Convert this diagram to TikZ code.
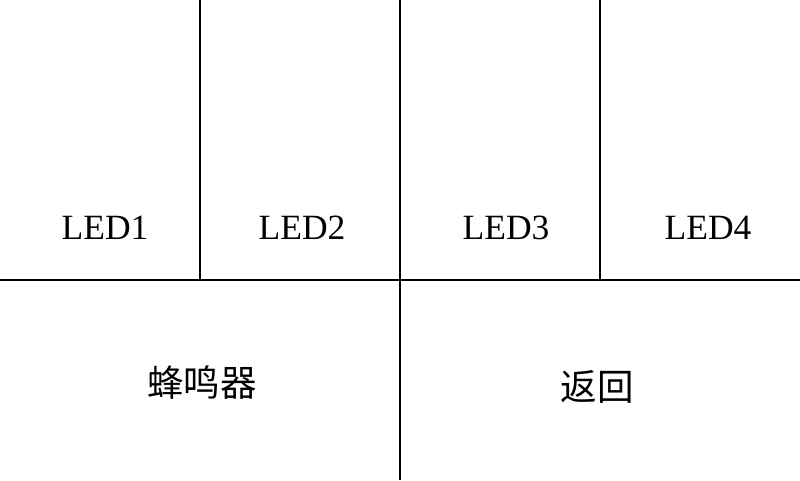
\documentclass[tikz,border=0pt]{standalone}
\usepackage{fontspec}
\setmainfont{Liberation Serif}
\newfontfamily\cjk{Noto Sans CJK SC}

\begin{document}
\begin{tikzpicture}[
    x=1pt, y=1pt,
    grid/.style={line width=2pt},
    label/.style={font=\fontsize{35.5}{40}\selectfont, anchor=base},
    cnlabel/.style={font=\cjk\fontsize{36.5}{40}\selectfont}
  ]

% --- bounding box (800 x 480) ---
    \useasboundingbox (0,0) rectangle (800,480);

% --- grid corners ---
    \coordinate (tl1) at (200,480);
    \coordinate (tl2) at (400,480);
    \coordinate (tl3) at (600,480);
    \coordinate (ml0) at (0,200);
    \coordinate (ml1) at (200,200);
    \coordinate (ml2) at (400,200);
    \coordinate (ml3) at (600,200);
    \coordinate (ml4) at (800,200);
    \coordinate (bl2) at (400,0);

% --- lines ---
    \draw[grid] (tl1) -- (ml1);
    \draw[grid] (tl2) -- (ml2) -- (bl2);
    \draw[grid] (tl3) -- (ml3);
    \draw[grid] (ml0) -- (ml4);

% --- top row: LEDs ---
    \node[label] (led1) at (105,241) {LED1};
    \node[label] (led2) at (302,241) {LED2};
    \node[label] (led3) at (506,241) {LED3};
    \node[label] (led4) at (708,241) {LED4};

% --- bottom row ---
    \node[cnlabel] (buzzer) at (202,97) {蜂鸣器};
    \node[cnlabel] (back)   at (597,93) {返回};

  \end{tikzpicture}
\end{document}
